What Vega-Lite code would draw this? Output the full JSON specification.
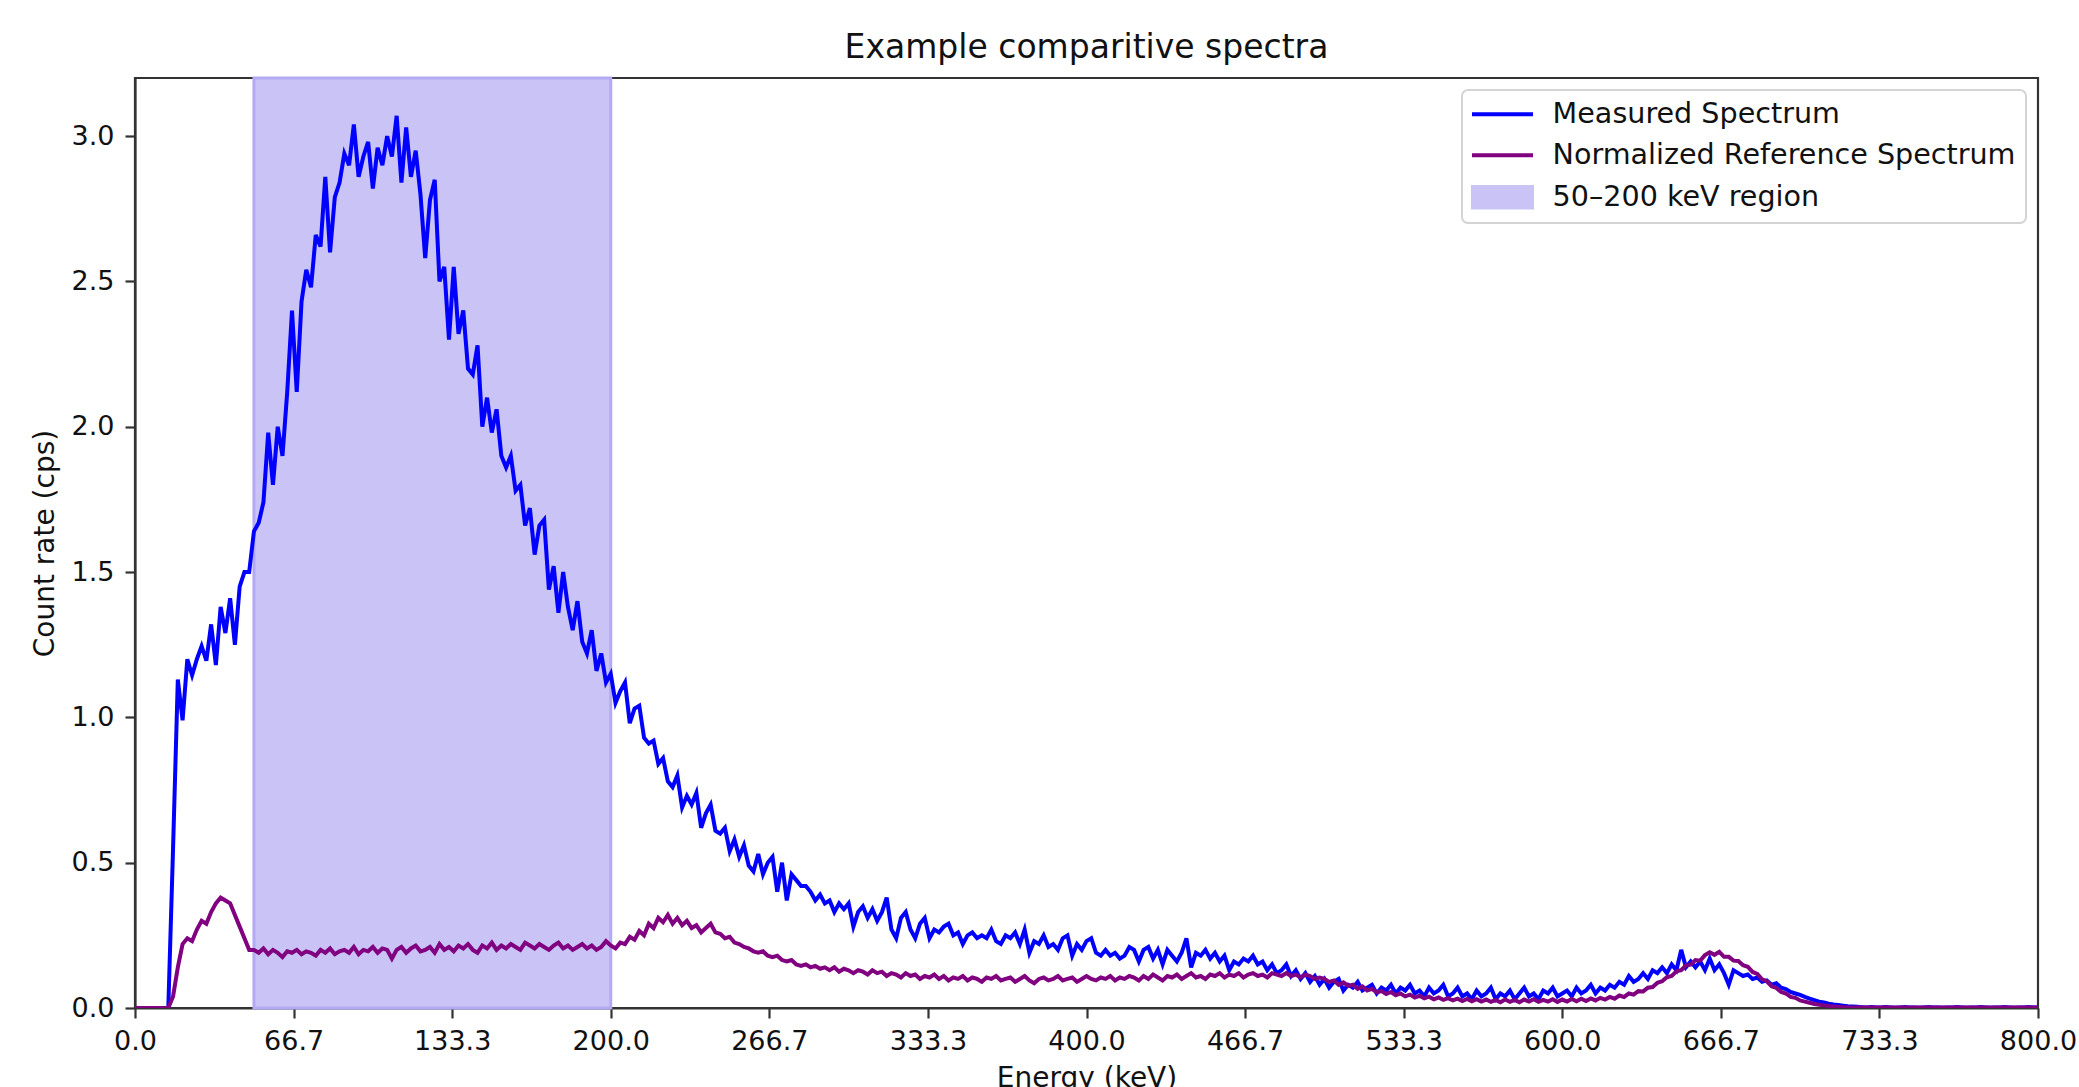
{
"$schema": "https://vega.github.io/schema/vega-lite/v6.json",
"width": 1903, "height": 930,
"autosize": {"type": "none"},
"padding": {"left": 135, "top": 78, "right": 41, "bottom": 79},
"background": "white",
"title": {"text": "Example comparitive spectra", "anchor": "middle", "frame": "group", "fontSize": 33, "fontWeight": "normal", "font": "DejaVu Sans", "color": "#111", "baseline": "alphabetic", "offset": 17, "dy": 31},
"config": {
  "font": "DejaVu Sans",
  "view": {"stroke": "#333", "strokeWidth": 2.2},
  "axis": {"labelFont": "DejaVu Sans", "titleFont": "DejaVu Sans", "labelFontSize": 27, "titleFontSize": 28, "titleFontWeight": "normal", "labelColor": "#111", "titleColor": "#111", "tickColor": "#333", "domainColor": "#333", "tickWidth": 2.2, "domainWidth": 2.2, "tickSize": 10, "grid": false, "labelFlush": false, "labelOverlap": false}
},
"data": {"values": [
{"e":0,"m":0,"r":0},{"e":2,"m":0,"r":0},{"e":4,"m":0,"r":0},{"e":6,"m":0,"r":0},{"e":8,"m":0,"r":0},{"e":10,"m":0,"r":0},{"e":12,"m":0,"r":0},{"e":14,"m":0,"r":0},
{"e":16,"m":0.55,"r":0.04},{"e":18,"m":1.13,"r":0.14},{"e":20,"m":0.99,"r":0.22},{"e":22,"m":1.2,"r":0.24},{"e":24,"m":1.145,"r":0.23},{"e":26,"m":1.2,"r":0.27},{"e":28,"m":1.245,"r":0.3},{"e":30,"m":1.195,"r":0.29},
{"e":32,"m":1.32,"r":0.33},{"e":34,"m":1.18,"r":0.36},{"e":36,"m":1.38,"r":0.38},{"e":38,"m":1.29,"r":0.37},{"e":40,"m":1.41,"r":0.36},{"e":42,"m":1.25,"r":0.32},{"e":44,"m":1.45,"r":0.28},{"e":46,"m":1.5,"r":0.24},
{"e":48,"m":1.5,"r":0.2},{"e":50,"m":1.64,"r":0.2},{"e":52,"m":1.67,"r":0.19},{"e":54,"m":1.74,"r":0.205},{"e":56,"m":1.98,"r":0.185},{"e":58,"m":1.8,"r":0.2},{"e":60,"m":2.0,"r":0.19},{"e":62,"m":1.9,"r":0.175},
{"e":64,"m":2.12,"r":0.195},{"e":66,"m":2.4,"r":0.19},{"e":68,"m":2.12,"r":0.2},{"e":70,"m":2.43,"r":0.185},{"e":72,"m":2.54,"r":0.195},{"e":74,"m":2.48,"r":0.19},{"e":76,"m":2.66,"r":0.18},{"e":78,"m":2.62,"r":0.2},
{"e":80,"m":2.86,"r":0.19},{"e":82,"m":2.6,"r":0.205},{"e":84,"m":2.79,"r":0.185},{"e":86,"m":2.84,"r":0.195},{"e":88,"m":2.94,"r":0.2},{"e":90,"m":2.9,"r":0.19},{"e":92,"m":3.04,"r":0.21},{"e":94,"m":2.86,"r":0.185},
{"e":96,"m":2.93,"r":0.2},{"e":98,"m":2.98,"r":0.195},{"e":100,"m":2.82,"r":0.21},{"e":102,"m":2.96,"r":0.19},{"e":104,"m":2.9,"r":0.205},{"e":106,"m":3.0,"r":0.2},{"e":108,"m":2.93,"r":0.17},{"e":110,"m":3.07,"r":0.2},
{"e":112,"m":2.84,"r":0.21},{"e":114,"m":3.03,"r":0.19},{"e":116,"m":2.86,"r":0.205},{"e":118,"m":2.95,"r":0.215},{"e":120,"m":2.8,"r":0.195},{"e":122,"m":2.58,"r":0.2},{"e":124,"m":2.78,"r":0.21},{"e":126,"m":2.85,"r":0.19},
{"e":128,"m":2.5,"r":0.22},{"e":130,"m":2.55,"r":0.2},{"e":132,"m":2.3,"r":0.21},{"e":134,"m":2.55,"r":0.195},{"e":136,"m":2.32,"r":0.215},{"e":138,"m":2.4,"r":0.205},{"e":140,"m":2.2,"r":0.22},{"e":142,"m":2.18,"r":0.2},
{"e":144,"m":2.28,"r":0.19},{"e":146,"m":2.0,"r":0.215},{"e":148,"m":2.1,"r":0.205},{"e":150,"m":1.98,"r":0.225},{"e":152,"m":2.06,"r":0.2},{"e":154,"m":1.9,"r":0.215},{"e":156,"m":1.86,"r":0.205},{"e":158,"m":1.9,"r":0.22},
{"e":160,"m":1.78,"r":0.21},{"e":162,"m":1.8,"r":0.2},{"e":164,"m":1.66,"r":0.225},{"e":166,"m":1.72,"r":0.215},{"e":168,"m":1.56,"r":0.205},{"e":170,"m":1.66,"r":0.22},{"e":172,"m":1.68,"r":0.21},{"e":174,"m":1.44,"r":0.2},
{"e":176,"m":1.52,"r":0.215},{"e":178,"m":1.36,"r":0.225},{"e":180,"m":1.5,"r":0.205},{"e":182,"m":1.38,"r":0.215},{"e":184,"m":1.3,"r":0.2},{"e":186,"m":1.4,"r":0.21},{"e":188,"m":1.26,"r":0.22},{"e":190,"m":1.22,"r":0.205},
{"e":192,"m":1.3,"r":0.215},{"e":194,"m":1.16,"r":0.2},{"e":196,"m":1.22,"r":0.21},{"e":198,"m":1.12,"r":0.23},{"e":200,"m":1.15,"r":0.215},{"e":202,"m":1.05,"r":0.205},{"e":204,"m":1.09,"r":0.225},{"e":206,"m":1.12,"r":0.22},
{"e":208,"m":0.98,"r":0.245},{"e":210,"m":1.03,"r":0.235},{"e":212,"m":1.04,"r":0.265},{"e":214,"m":0.93,"r":0.25},{"e":216,"m":0.91,"r":0.29},{"e":218,"m":0.92,"r":0.275},{"e":220,"m":0.84,"r":0.31},{"e":222,"m":0.86,"r":0.295},
{"e":224,"m":0.78,"r":0.32},{"e":226,"m":0.76,"r":0.29},{"e":228,"m":0.8,"r":0.31},{"e":230,"m":0.69,"r":0.285},{"e":232,"m":0.73,"r":0.3},{"e":234,"m":0.7,"r":0.275},{"e":236,"m":0.74,"r":0.285},{"e":238,"m":0.62,"r":0.26},
{"e":240,"m":0.67,"r":0.275},{"e":242,"m":0.7,"r":0.29},{"e":244,"m":0.61,"r":0.26},{"e":246,"m":0.6,"r":0.255},{"e":248,"m":0.62,"r":0.24},{"e":250,"m":0.54,"r":0.245},{"e":252,"m":0.58,"r":0.225},{"e":254,"m":0.52,"r":0.22},
{"e":256,"m":0.56,"r":0.21},{"e":258,"m":0.49,"r":0.205},{"e":260,"m":0.47,"r":0.195},{"e":262,"m":0.53,"r":0.19},{"e":264,"m":0.46,"r":0.195},{"e":266,"m":0.5,"r":0.18},{"e":268,"m":0.52,"r":0.175},{"e":270,"m":0.4,"r":0.18},
{"e":272,"m":0.5,"r":0.165},{"e":274,"m":0.37,"r":0.16},{"e":276,"m":0.46,"r":0.165},{"e":278,"m":0.44,"r":0.15},{"e":280,"m":0.42,"r":0.145},{"e":282,"m":0.42,"r":0.15},{"e":284,"m":0.4,"r":0.14},{"e":286,"m":0.37,"r":0.145},
{"e":288,"m":0.39,"r":0.135},{"e":290,"m":0.36,"r":0.14},{"e":292,"m":0.37,"r":0.13},{"e":294,"m":0.33,"r":0.14},{"e":296,"m":0.36,"r":0.125},{"e":298,"m":0.34,"r":0.135},{"e":300,"m":0.36,"r":0.13},{"e":302,"m":0.28,"r":0.12},
{"e":304,"m":0.33,"r":0.13},{"e":306,"m":0.35,"r":0.125},{"e":308,"m":0.31,"r":0.115},{"e":310,"m":0.34,"r":0.13},{"e":312,"m":0.3,"r":0.12},{"e":314,"m":0.33,"r":0.125},{"e":316,"m":0.38,"r":0.11},{"e":318,"m":0.27,"r":0.12},
{"e":320,"m":0.24,"r":0.115},{"e":322,"m":0.31,"r":0.105},{"e":324,"m":0.33,"r":0.12},{"e":326,"m":0.27,"r":0.11},{"e":328,"m":0.24,"r":0.115},{"e":330,"m":0.29,"r":0.1},{"e":332,"m":0.31,"r":0.11},{"e":334,"m":0.24,"r":0.105},
{"e":336,"m":0.27,"r":0.115},{"e":338,"m":0.26,"r":0.1},{"e":340,"m":0.28,"r":0.11},{"e":342,"m":0.29,"r":0.095},{"e":344,"m":0.25,"r":0.105},{"e":346,"m":0.26,"r":0.1},{"e":348,"m":0.22,"r":0.11},{"e":350,"m":0.25,"r":0.095},
{"e":352,"m":0.26,"r":0.105},{"e":354,"m":0.24,"r":0.1},{"e":356,"m":0.25,"r":0.09},{"e":358,"m":0.24,"r":0.105},{"e":360,"m":0.27,"r":0.1},{"e":362,"m":0.23,"r":0.11},{"e":364,"m":0.22,"r":0.095},{"e":366,"m":0.25,"r":0.1},
{"e":368,"m":0.24,"r":0.105},{"e":370,"m":0.26,"r":0.09},{"e":372,"m":0.22,"r":0.1},{"e":374,"m":0.27,"r":0.11},{"e":376,"m":0.19,"r":0.095},{"e":378,"m":0.23,"r":0.085},{"e":380,"m":0.22,"r":0.1},{"e":382,"m":0.25,"r":0.105},
{"e":384,"m":0.21,"r":0.095},{"e":386,"m":0.22,"r":0.1},{"e":388,"m":0.2,"r":0.11},{"e":390,"m":0.24,"r":0.095},{"e":392,"m":0.25,"r":0.1},{"e":394,"m":0.18,"r":0.105},{"e":396,"m":0.22,"r":0.09},{"e":398,"m":0.2,"r":0.1},
{"e":400,"m":0.23,"r":0.11},{"e":402,"m":0.24,"r":0.1},{"e":404,"m":0.19,"r":0.095},{"e":406,"m":0.18,"r":0.105},{"e":408,"m":0.2,"r":0.1},{"e":410,"m":0.18,"r":0.11},{"e":412,"m":0.19,"r":0.095},{"e":414,"m":0.17,"r":0.105},
{"e":416,"m":0.18,"r":0.1},{"e":418,"m":0.21,"r":0.11},{"e":420,"m":0.2,"r":0.105},{"e":422,"m":0.16,"r":0.095},{"e":424,"m":0.2,"r":0.11},{"e":426,"m":0.21,"r":0.1},{"e":428,"m":0.17,"r":0.115},{"e":430,"m":0.2,"r":0.105},
{"e":432,"m":0.15,"r":0.095},{"e":434,"m":0.2,"r":0.11},{"e":436,"m":0.18,"r":0.105},{"e":438,"m":0.16,"r":0.115},{"e":440,"m":0.19,"r":0.1},{"e":442,"m":0.24,"r":0.11},{"e":444,"m":0.14,"r":0.12},{"e":446,"m":0.19,"r":0.105},
{"e":448,"m":0.18,"r":0.11},{"e":450,"m":0.2,"r":0.1},{"e":452,"m":0.17,"r":0.115},{"e":454,"m":0.19,"r":0.11},{"e":456,"m":0.16,"r":0.12},{"e":458,"m":0.18,"r":0.105},{"e":460,"m":0.13,"r":0.115},{"e":462,"m":0.16,"r":0.11},
{"e":464,"m":0.15,"r":0.12},{"e":466,"m":0.17,"r":0.105},{"e":468,"m":0.16,"r":0.115},{"e":470,"m":0.18,"r":0.12},{"e":472,"m":0.15,"r":0.11},{"e":474,"m":0.16,"r":0.115},{"e":476,"m":0.13,"r":0.105},{"e":478,"m":0.15,"r":0.12},
{"e":480,"m":0.12,"r":0.115},{"e":482,"m":0.13,"r":0.11},{"e":484,"m":0.15,"r":0.12},{"e":486,"m":0.11,"r":0.11},{"e":488,"m":0.13,"r":0.115},{"e":490,"m":0.1,"r":0.105},{"e":492,"m":0.12,"r":0.115},{"e":494,"m":0.09,"r":0.11},
{"e":496,"m":0.11,"r":0.1},{"e":498,"m":0.08,"r":0.105},{"e":500,"m":0.1,"r":0.1},{"e":502,"m":0.07,"r":0.09},{"e":504,"m":0.09,"r":0.095},{"e":506,"m":0.1,"r":0.08},{"e":508,"m":0.06,"r":0.088},{"e":510,"m":0.08,"r":0.076},
{"e":512,"m":0.07,"r":0.08},{"e":514,"m":0.09,"r":0.066},{"e":516,"m":0.06,"r":0.074},{"e":518,"m":0.07,"r":0.06},{"e":520,"m":0.08,"r":0.066},{"e":522,"m":0.05,"r":0.054},{"e":524,"m":0.07,"r":0.058},{"e":526,"m":0.06,"r":0.048},
{"e":528,"m":0.08,"r":0.055},{"e":530,"m":0.05,"r":0.044},{"e":532,"m":0.07,"r":0.05},{"e":534,"m":0.06,"r":0.04},{"e":536,"m":0.08,"r":0.046},{"e":538,"m":0.05,"r":0.036},{"e":540,"m":0.06,"r":0.042},{"e":542,"m":0.04,"r":0.033},
{"e":544,"m":0.07,"r":0.039},{"e":546,"m":0.05,"r":0.03},{"e":548,"m":0.06,"r":0.036},{"e":550,"m":0.08,"r":0.028},{"e":552,"m":0.04,"r":0.034},{"e":554,"m":0.05,"r":0.026},{"e":556,"m":0.07,"r":0.032},{"e":558,"m":0.04,"r":0.024},
{"e":560,"m":0.05,"r":0.031},{"e":562,"m":0.03,"r":0.023},{"e":564,"m":0.06,"r":0.03},{"e":566,"m":0.04,"r":0.022},{"e":568,"m":0.05,"r":0.029},{"e":570,"m":0.07,"r":0.021},{"e":572,"m":0.03,"r":0.028},{"e":574,"m":0.05,"r":0.02},
{"e":576,"m":0.04,"r":0.029},{"e":578,"m":0.06,"r":0.021},{"e":580,"m":0.03,"r":0.028},{"e":582,"m":0.05,"r":0.02},{"e":584,"m":0.07,"r":0.029},{"e":586,"m":0.04,"r":0.022},{"e":588,"m":0.05,"r":0.03},{"e":590,"m":0.03,"r":0.021},
{"e":592,"m":0.06,"r":0.028},{"e":594,"m":0.05,"r":0.022},{"e":596,"m":0.07,"r":0.03},{"e":598,"m":0.04,"r":0.021},{"e":600,"m":0.05,"r":0.029},{"e":602,"m":0.06,"r":0.022},{"e":604,"m":0.04,"r":0.031},{"e":606,"m":0.07,"r":0.023},
{"e":608,"m":0.05,"r":0.032},{"e":610,"m":0.06,"r":0.024},{"e":612,"m":0.08,"r":0.033},{"e":614,"m":0.05,"r":0.026},{"e":616,"m":0.07,"r":0.035},{"e":618,"m":0.06,"r":0.029},{"e":620,"m":0.08,"r":0.038},{"e":622,"m":0.07,"r":0.032},
{"e":624,"m":0.09,"r":0.043},{"e":626,"m":0.08,"r":0.038},{"e":628,"m":0.11,"r":0.05},{"e":630,"m":0.09,"r":0.046},{"e":632,"m":0.1,"r":0.058},{"e":634,"m":0.12,"r":0.057},{"e":636,"m":0.1,"r":0.07},{"e":638,"m":0.13,"r":0.072},
{"e":640,"m":0.12,"r":0.087},{"e":642,"m":0.14,"r":0.092},{"e":644,"m":0.12,"r":0.106},{"e":646,"m":0.15,"r":0.11},{"e":648,"m":0.13,"r":0.126},{"e":650,"m":0.2,"r":0.13},{"e":652,"m":0.14,"r":0.147},{"e":654,"m":0.16,"r":0.149},
{"e":656,"m":0.14,"r":0.165},{"e":658,"m":0.16,"r":0.163},{"e":660,"m":0.13,"r":0.182},{"e":662,"m":0.17,"r":0.192},{"e":664,"m":0.13,"r":0.183},{"e":666,"m":0.15,"r":0.193},{"e":668,"m":0.12,"r":0.176},{"e":670,"m":0.08,"r":0.176},
{"e":672,"m":0.13,"r":0.163},{"e":674,"m":0.12,"r":0.162},{"e":676,"m":0.11,"r":0.147},{"e":678,"m":0.115,"r":0.142},{"e":680,"m":0.1,"r":0.124},{"e":682,"m":0.105,"r":0.117},{"e":684,"m":0.09,"r":0.099},{"e":686,"m":0.095,"r":0.092},
{"e":688,"m":0.08,"r":0.075},{"e":690,"m":0.085,"r":0.069},{"e":692,"m":0.07,"r":0.055},{"e":694,"m":0.065,"r":0.05},{"e":696,"m":0.055,"r":0.038},{"e":698,"m":0.05,"r":0.035},{"e":700,"m":0.045,"r":0.026},{"e":702,"m":0.038,"r":0.022},
{"e":704,"m":0.032,"r":0.018},{"e":706,"m":0.027,"r":0.014},{"e":708,"m":0.022,"r":0.011},{"e":710,"m":0.019,"r":0.009},{"e":712,"m":0.015,"r":0.007},{"e":714,"m":0.012,"r":0.005},{"e":716,"m":0.01,"r":0.004},{"e":718,"m":0.008,"r":0.003},
{"e":720,"m":0.006,"r":0.002},{"e":722,"m":0.005,"r":0.002},{"e":724,"m":0.004,"r":0.002},{"e":726,"m":0.003,"r":0.002},{"e":728,"m":0.002,"r":0.002},{"e":730,"m":0.003,"r":0.002},{"e":732,"m":0.002,"r":0.002},{"e":734,"m":0.002,"r":0.002},
{"e":736,"m":0.003,"r":0.002},{"e":738,"m":0.002,"r":0.002},{"e":740,"m":0.001,"r":0.002},{"e":742,"m":0.002,"r":0.002},{"e":744,"m":0.003,"r":0.002},{"e":746,"m":0.002,"r":0.002},{"e":748,"m":0.002,"r":0.002},{"e":750,"m":0.001,"r":0.002},
{"e":752,"m":0.002,"r":0.002},{"e":754,"m":0.003,"r":0.002},{"e":756,"m":0.002,"r":0.002},{"e":758,"m":0.002,"r":0.002},{"e":760,"m":0.001,"r":0.002},{"e":762,"m":0.002,"r":0.002},{"e":764,"m":0.002,"r":0.002},{"e":766,"m":0.003,"r":0.002},
{"e":768,"m":0.002,"r":0.002},{"e":770,"m":0.001,"r":0.002},{"e":772,"m":0.002,"r":0.002},{"e":774,"m":0.002,"r":0.002},{"e":776,"m":0.003,"r":0.002},{"e":778,"m":0.002,"r":0.002},{"e":780,"m":0.001,"r":0.002},{"e":782,"m":0.002,"r":0.002},
{"e":784,"m":0.002,"r":0.002},{"e":786,"m":0.003,"r":0.002},{"e":788,"m":0.002,"r":0.002},{"e":790,"m":0.001,"r":0.002},{"e":792,"m":0.002,"r":0.002},{"e":794,"m":0.002,"r":0.002},{"e":796,"m":0.003,"r":0.002},{"e":798,"m":0.002,"r":0.002},
{"e":800,"m":0.002,"r":0.002}
]},
"layer": [
  {
    "data": {"values": [{"a": 50, "b": 200, "s": "g"}]},
    "mark": {"type": "rect", "fillOpacity": 1, "stroke": "#b4aaf3", "strokeWidth": 3},
    "encoding": {
      "x": {"field": "a", "type": "quantitative", "scale": {"domain": [0, 800], "nice": false, "zero": false},
            "axis": {"values": [0, 66.66667, 133.33333, 200, 266.66667, 333.33333, 400, 466.66667, 533.33333, 600, 666.66667, 733.33333, 800], "format": ".1f", "title": "Energy (keV)", "labelPadding": 10, "titlePadding": 10}},
      "x2": {"field": "b"},
      "color": {"field": "s", "type": "nominal",
        "scale": {"domain": ["m", "r", "g"], "range": ["#0000ff", "#800080", "#c9c3f6"]},
        "legend": {"title": null, "orient": "top-right", "offset": 12, "padding": 10, "rowPadding": 12,
          "labelFont": "DejaVu Sans", "labelFontSize": 28.6, "labelColor": "#111", "labelOffset": 52, "labelLimit": 0,
          "symbolSize": 3721, "strokeColor": "#d4d4d4", "fillColor": "white", "cornerRadius": 6,
          "labelExpr": "datum.value === 'm' ? 'Measured Spectrum' : datum.value === 'r' ? 'Normalized Reference Spectrum' : '50–200 keV region'",
          "encode": {
            "legend": {"update": {"strokeWidth": {"value": 2}}},
            "symbols": {"update": {
            "shape": {"signal": "datum.value === 'g' ? 'M-1,-0.37H1V0.37H-1Z' : 'stroke'"},
            "stroke": {"signal": "datum.value === 'g' ? '#b9aff4' : datum.value === 'm' ? '#0000ff' : '#800080'"},
            "strokeWidth": {"signal": "datum.value === 'g' ? 2 : 4"},
            "opacity": {"value": 1},
            "size": {"value": 3721},
            "x": {"value": 30.5}
          }}}
        }
      }
    }
  },
  {
    "transform": [{"fold": ["m", "r"], "as": ["s", "v"]}],
    "mark": {"type": "line", "strokeWidth": 4, "clip": true},
    "encoding": {
      "x": {"field": "e", "type": "quantitative", "scale": {"domain": [0, 800], "nice": false, "zero": false},
            "axis": {"values": [0, 66.66667, 133.33333, 200, 266.66667, 333.33333, 400, 466.66667, 533.33333, 600, 666.66667, 733.33333, 800], "format": ".1f", "title": "Energy (keV)", "labelPadding": 10, "titlePadding": 10}},
      "y": {"field": "v", "type": "quantitative", "scale": {"domain": [0, 3.2], "nice": false},
            "axis": {"values": [0, 0.5, 1, 1.5, 2, 2.5, 3], "format": ".1f", "title": "Count rate (cps)", "labelPadding": 11, "titlePadding": 12}},
      "color": {"field": "s", "type": "nominal",
        "scale": {"domain": ["m", "r", "g"], "range": ["#0000ff", "#800080", "#c9c3f6"]},
        "legend": {"title": null, "orient": "top-right", "offset": 12, "padding": 10, "rowPadding": 12,
          "labelFont": "DejaVu Sans", "labelFontSize": 28.6, "labelColor": "#111", "labelOffset": 52, "labelLimit": 0,
          "symbolSize": 3721, "strokeColor": "#d4d4d4", "fillColor": "white", "cornerRadius": 6,
          "labelExpr": "datum.value === 'm' ? 'Measured Spectrum' : datum.value === 'r' ? 'Normalized Reference Spectrum' : '50–200 keV region'",
          "encode": {
            "legend": {"update": {"strokeWidth": {"value": 2}}},
            "symbols": {"update": {
            "shape": {"signal": "datum.value === 'g' ? 'M-1,-0.37H1V0.37H-1Z' : 'stroke'"},
            "stroke": {"signal": "datum.value === 'g' ? '#b9aff4' : datum.value === 'm' ? '#0000ff' : '#800080'"},
            "strokeWidth": {"signal": "datum.value === 'g' ? 2 : 4"},
            "opacity": {"value": 1},
            "size": {"value": 3721},
            "x": {"value": 30.5}
          }}}
        }
      }
    }
  }
]
}
